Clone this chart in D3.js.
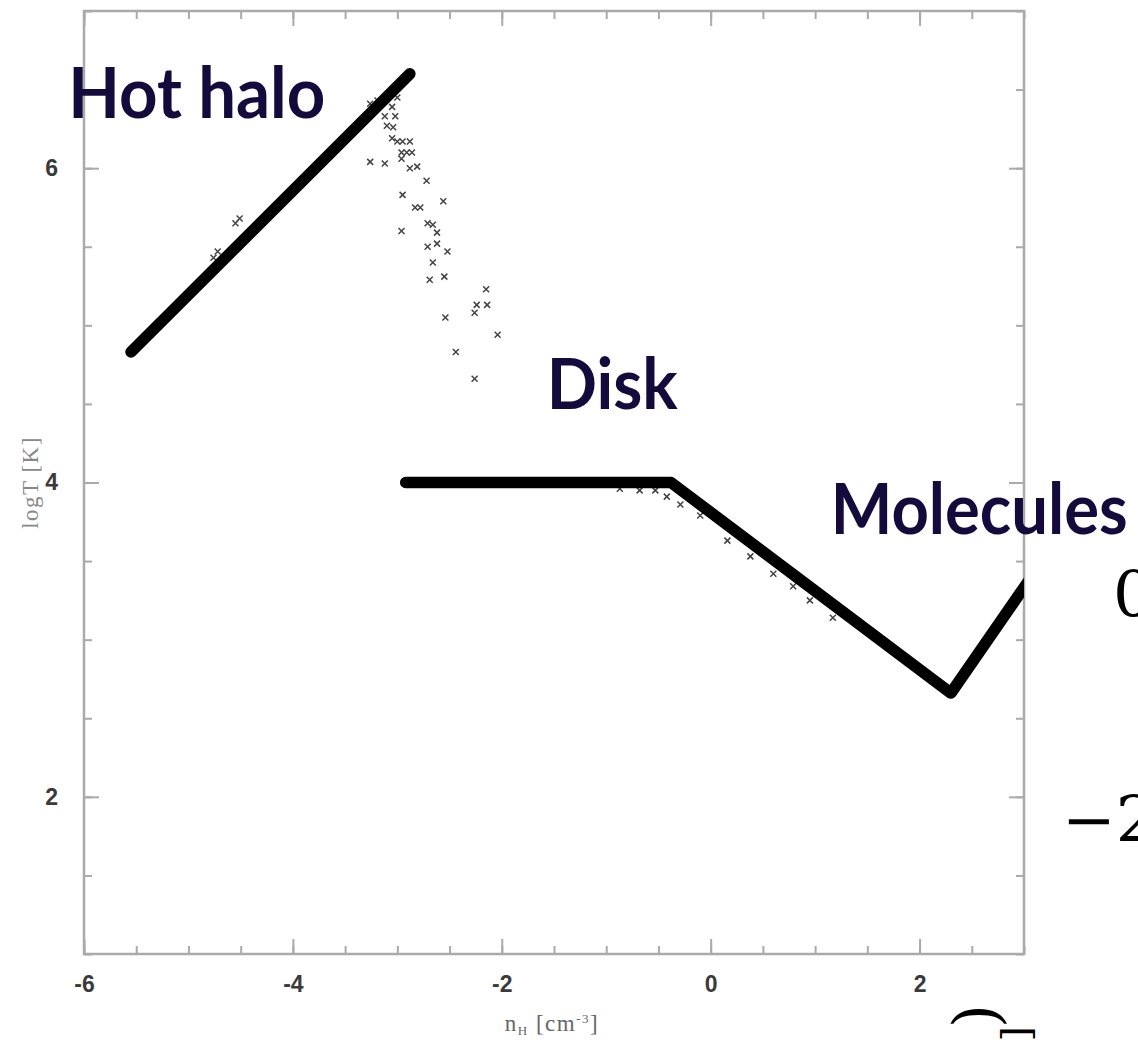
<!DOCTYPE html>
<html>
<head>
<meta charset="utf-8">
<script src="https://cdn.jsdelivr.net/npm/d3@7"></script>
<style>
  body { margin: 0; background: #fff; }
  svg { display: block; }
</style>
</head>
<body>
<svg width="1138" height="1040"></svg>
<script>
// model tracks (log n_H, log T)
var haloTrack = [[-5.55, 4.83], [-2.88, 6.60]];
var diskTrack = [[-2.92, 4.0], [-0.38, 4.0], [2.30, 2.66], [3.05, 3.38]];

// simulated particles (x markers)
var partX = [-3.00, -3.05, -3.12, -3.02, -3.10, -3.04, -3.05, -3.00, -2.95, -2.88,
  -2.96, -2.91, -2.86, -2.96, -3.26, -3.12, -2.88, -2.81, -2.72, -2.95,
  -2.56, -2.83, -2.78, -2.71, -2.66, -2.62, -2.96, -2.71, -2.62, -2.52,
  -2.66, -2.69, -2.55, -2.15, -2.24, -2.14, -2.26, -2.54, -2.04, -2.44, -2.26,
  -4.51, -4.55, -4.72, -4.76, -3.26, -3.19,
  -0.87, -0.68, -0.53, -0.42, -0.29, -0.10, 0.16, 0.38, 0.60, 0.79, 0.95, 1.17];
var partY = [6.45, 6.39, 6.33, 6.33, 6.27, 6.26, 6.19, 6.17, 6.17, 6.17,
  6.10, 6.10, 6.10, 6.06, 6.04, 6.03, 6.00, 6.01, 5.92, 5.83,
  5.79, 5.75, 5.75, 5.65, 5.64, 5.59, 5.60, 5.50, 5.52, 5.47,
  5.40, 5.29, 5.31, 5.23, 5.13, 5.13, 5.08, 5.05, 4.94, 4.83, 4.66,
  5.68, 5.65, 5.47, 5.43, 6.41, 6.43,
  3.96, 3.95, 3.95, 3.91, 3.86, 3.79, 3.63, 3.53, 3.42, 3.34, 3.25, 3.14];

var xLabels = [-6, -4, -2, 0, 2];
var yLabels = [2, 4, 6];

var annText = ['Hot halo', 'Disk', 'Molecules'];
var annX = [-6.15, -1.57, 1.15];
var annY = [6.32, 4.47, 3.67];
var annWidth = [257, 131, 297];

var svg = d3.select('svg');
var pLeft = 84, pRight = 1024, pTop = 11, pBottom = 954;

var x = d3.scaleLinear().domain([-6, 3]).range([pLeft, pRight]);
var y = d3.scaleLinear().domain([1, 7]).range([pBottom, pTop]);

var minorX = d3.range(-6, 3.01, 0.5);
var minorY = d3.range(1, 7.01, 0.5);
var axisColor = '#aaa';

function styleAxis(g) {
  g.select('.domain').remove();
  g.attr('font-size', 23);
  g.attr('font-family', 'Liberation Sans, Arial, sans-serif');
  g.selectAll('.tick line').attr('stroke', axisColor).attr('stroke-width', 2);
  g.selectAll('.tick text')
    .attr('fill', '#3a3a3a')
    .attr('font-weight', 'bold');
}

// minor ticks on all four sides
svg.append('g').attr('transform', 'translate(0,' + pBottom + ')')
  .call(d3.axisBottom(x).tickValues(minorX).tickSize(-8).tickFormat('')).call(styleAxis);
svg.append('g').attr('transform', 'translate(0,' + pTop + ')')
  .call(d3.axisTop(x).tickValues(minorX).tickSize(-8).tickFormat('')).call(styleAxis);
svg.append('g').attr('transform', 'translate(' + pLeft + ',0)')
  .call(d3.axisLeft(y).tickValues(minorY).tickSize(-8).tickFormat('')).call(styleAxis);
svg.append('g').attr('transform', 'translate(' + pRight + ',0)')
  .call(d3.axisRight(y).tickValues(minorY).tickSize(-8).tickFormat('')).call(styleAxis);

// major ticks + labels
svg.append('g').attr('transform', 'translate(0,' + pBottom + ')')
  .call(d3.axisBottom(x).tickValues(xLabels).tickSize(-15).tickPadding(22).tickFormat(function(d) { return d; }))
  .call(styleAxis);
svg.append('g').attr('transform', 'translate(0,' + pTop + ')')
  .call(d3.axisTop(x).tickValues(xLabels).tickSize(-15).tickFormat('')).call(styleAxis);
svg.append('g').attr('transform', 'translate(' + pLeft + ',0)')
  .call(d3.axisLeft(y).tickValues(yLabels).tickSize(-15).tickPadding(26).tickFormat(function(d) { return d; }))
  .call(styleAxis);
svg.append('g').attr('transform', 'translate(' + pRight + ',0)')
  .call(d3.axisRight(y).tickValues(yLabels).tickSize(-15).tickFormat('')).call(styleAxis);

// frame
svg.append('rect')
  .attr('x', pLeft).attr('y', pTop)
  .attr('width', pRight - pLeft).attr('height', pBottom - pTop)
  .attr('fill', 'none').attr('stroke', axisColor).attr('stroke-width', 2.5);

// axis titles
var xt = svg.append('text')
  .attr('x', 552).attr('y', 1031)
  .attr('text-anchor', 'middle')
  .attr('fill', '#666')
  .style('font-family', 'Liberation Serif, DejaVu Serif, serif')
  .style('font-size', '23px')
  .style('letter-spacing', '1.5px');
xt.append('tspan').text('n');
xt.append('tspan').attr('dy', 4).style('font-size', '13px').text('H');
xt.append('tspan').attr('dy', -4).text(' [cm');
xt.append('tspan').attr('dy', -8).style('font-size', '13px').text('-3');
xt.append('tspan').attr('dy', 8).text(']');

svg.append('text')
  .attr('transform', 'translate(38,' + y(4) + ') rotate(-90)')
  .attr('text-anchor', 'middle')
  .attr('fill', '#888')
  .style('font-family', 'Liberation Serif, DejaVu Serif, serif')
  .style('font-size', '23px')
  .style('letter-spacing', '1.5px')
  .text('logT [K]');

// plot area clip
svg.append('clipPath').attr('id', 'plotclip')
  .append('rect').attr('x', pLeft).attr('y', pTop)
  .attr('width', pRight - pLeft).attr('height', pBottom - pTop);

var plot = svg.append('g').attr('clip-path', 'url(#plotclip)');

// particles
var pts = d3.range(partX.length).map(function(i) { return [partX[i], partY[i]]; });
plot.selectAll('path.pt')
  .data(pts)
  .enter()
  .append('path')
  .attr('class', 'pt')
  .attr('transform', function(d) { return 'translate(' + [x(d[0]), y(d[1])] + ')'; })
  .attr('d', 'M-3,-3L3,3M-3,3L3,-3')
  .attr('stroke', '#444')
  .attr('stroke-width', 1.5)
  .attr('fill', 'none');

var line = d3.line()
  .x(function(d) { return x(d[0]); })
  .y(function(d) { return y(d[1]); });

plot.selectAll('path.track')
  .data([haloTrack, diskTrack])
  .enter()
  .append('path')
  .attr('class', 'track')
  .attr('d', line)
  .attr('fill', 'none')
  .attr('stroke', '#000')
  .attr('stroke-width', 11.5)
  .attr('stroke-linejoin', 'round')
  .attr('stroke-linecap', 'round');

// region labels
svg.selectAll('text.ann')
  .data(annText)
  .enter()
  .append('text')
  .attr('class', 'ann')
  .attr('x', function(d, i) { return x(annX[i]); })
  .attr('y', function(d, i) { return y(annY[i]); })
  .attr('textLength', function(d, i) { return annWidth[i]; })
  .attr('lengthAdjust', 'spacingAndGlyphs')
  .attr('fill', '#140a3c')
  .style('font-family', '"Comic Sans MS", Lato, "Noto Sans", sans-serif')
  .style('font-weight', 'bold')
  .style('font-size', '70px')
  .text(function(d) { return d; });

// fragments of the neighbouring slide poking in at the edge
var frag = svg.append('g')
  .attr('fill', '#000')
  .style('font-family', 'DejaVu Serif, Liberation Serif, serif')
  .style('font-weight', '200');
frag.append('text').attr('x', 1113).attr('y', 617).style('font-size', '64px').text('0');
frag.append('text').attr('x', 1062).attr('y', 842).style('font-size', '64px').text('\u22122');
frag.append('text').attr('transform', 'translate(960,1004) rotate(90)').style('font-size', '62px').text('(');
frag.append('text').attr('transform', 'translate(1006,1026) rotate(90)').style('font-size', '40px').text('[');
</script>
</body>
</html>
